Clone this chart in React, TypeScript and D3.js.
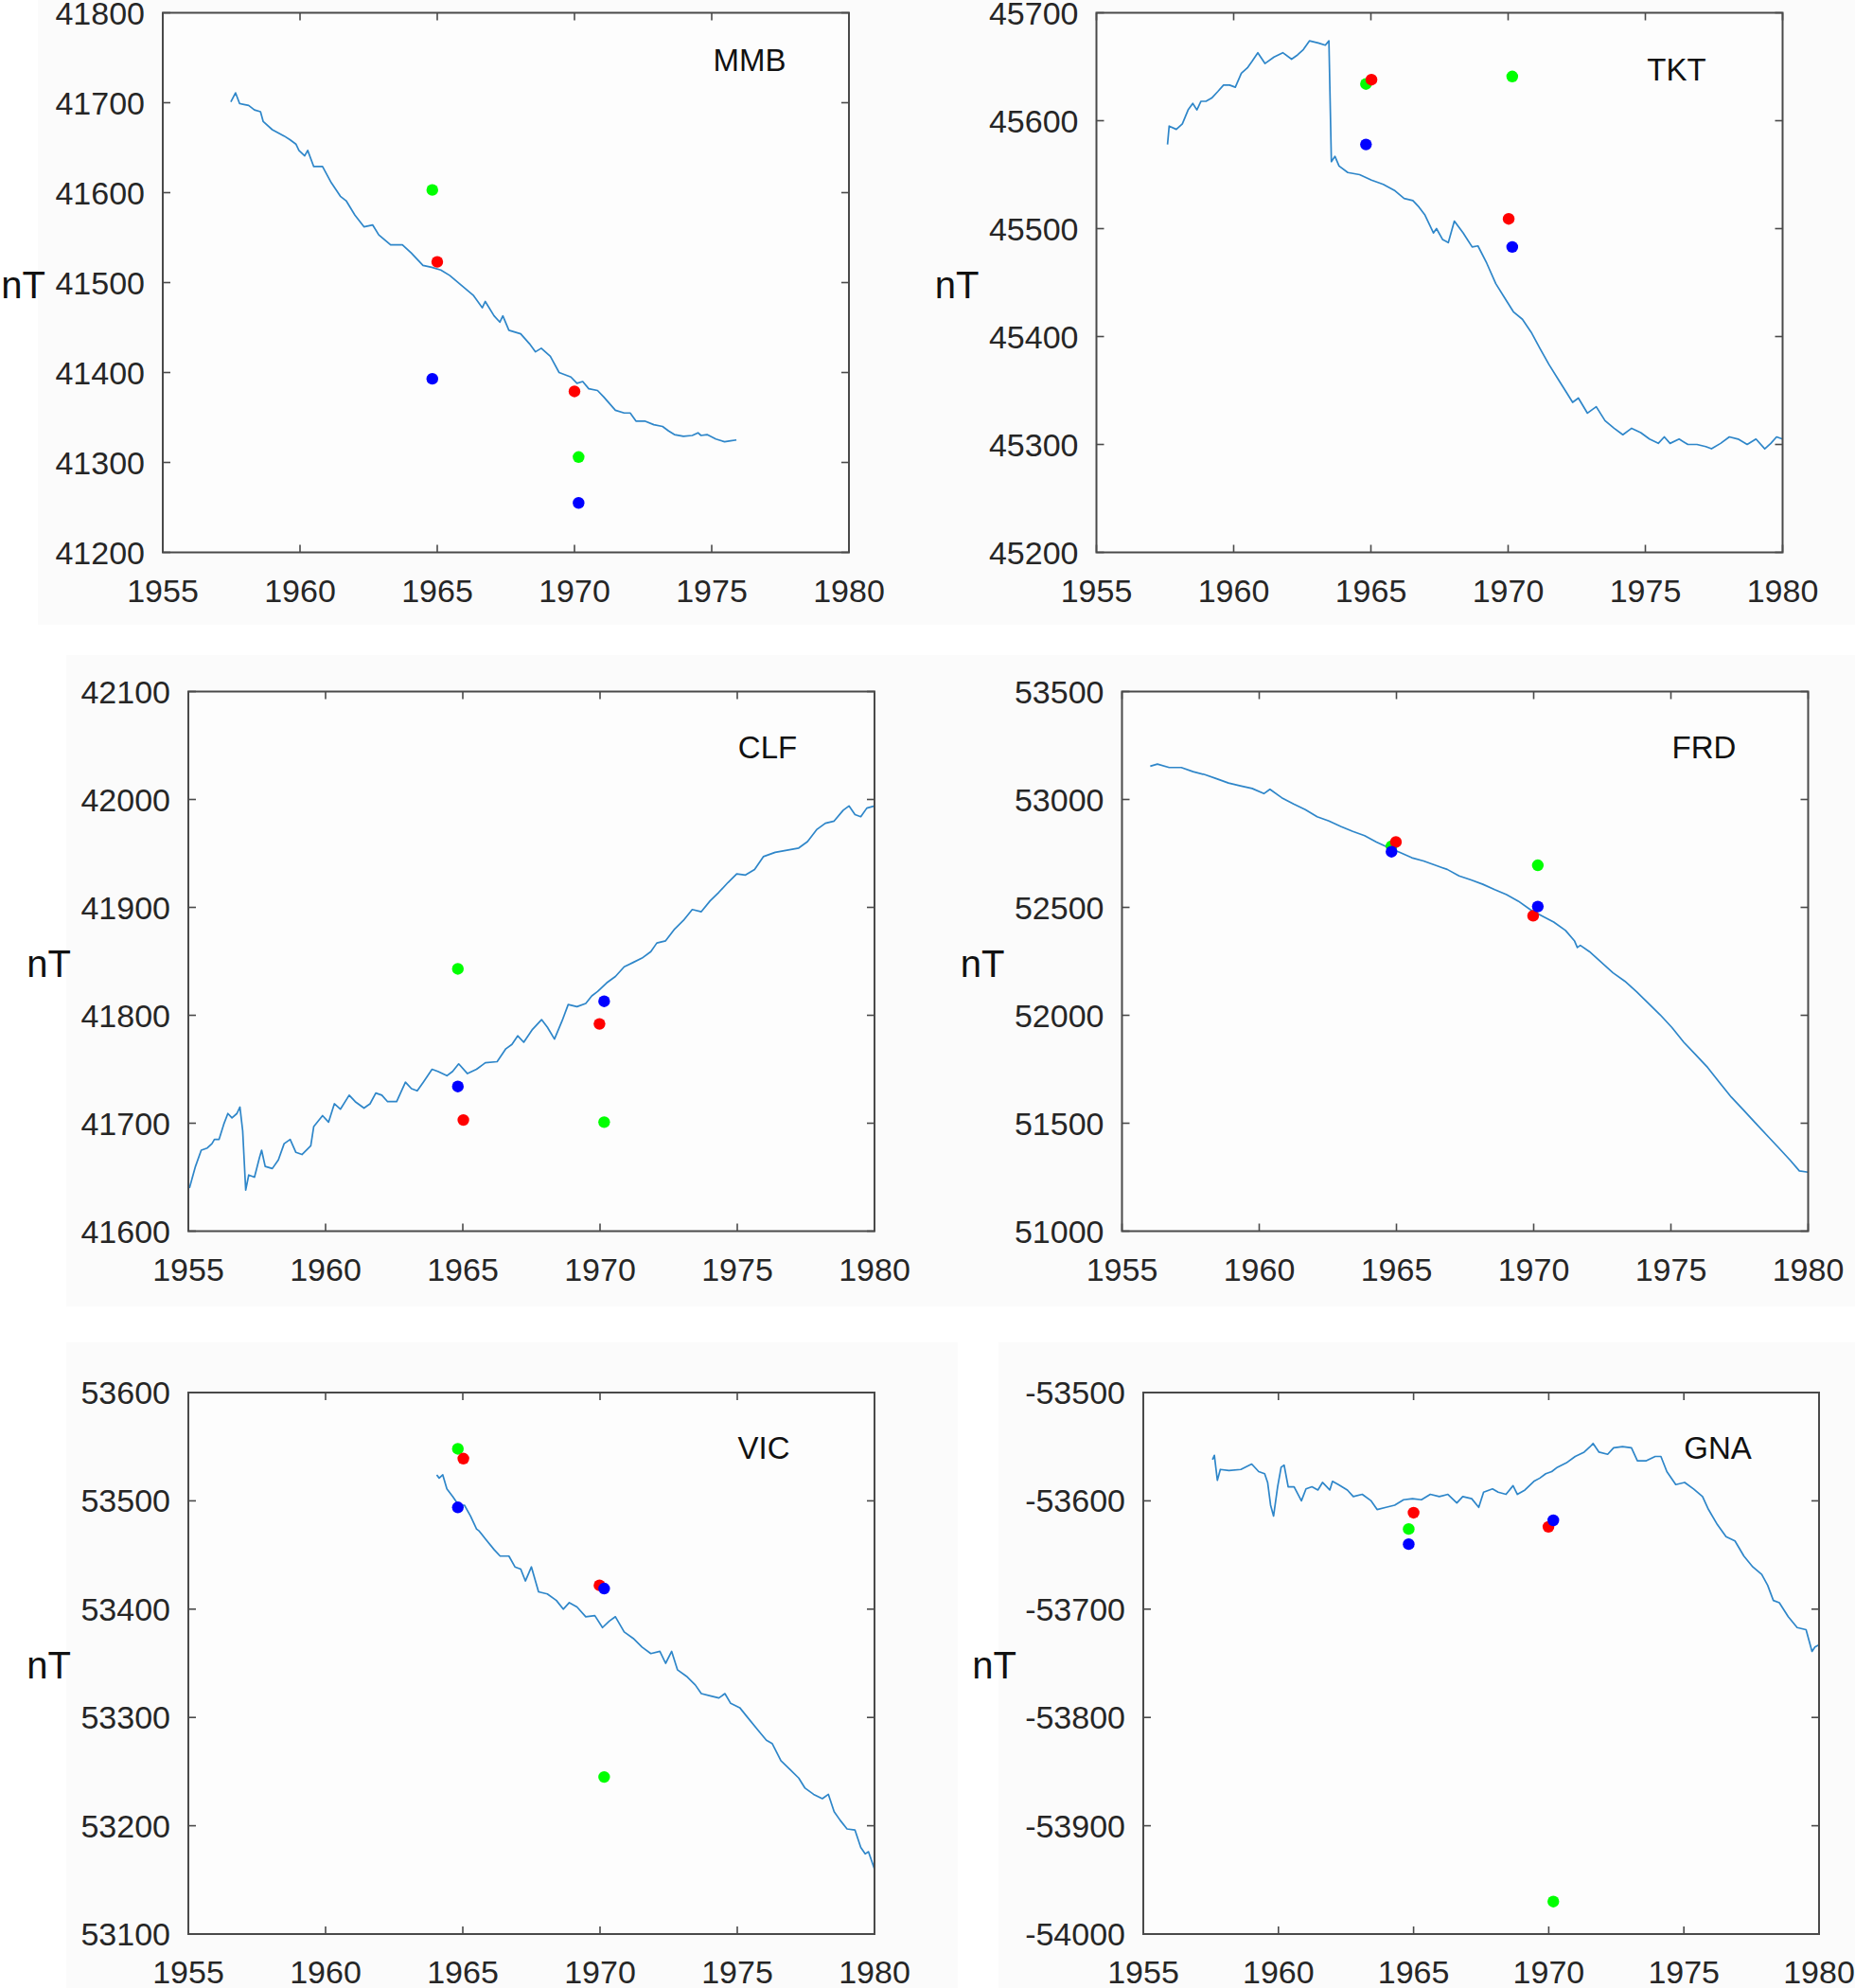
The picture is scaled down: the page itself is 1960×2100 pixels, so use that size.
import React from "react";
import * as d3 from "d3";

// ---------- DATA ----------
const stations = ["MMB", "TKT", "CLF", "FRD", "VIC", "GNA"];
const xTicks = [1955, 1960, 1965, 1970, 1975, 1980];

const yTicksMMB = [41200, 41300, 41400, 41500, 41600, 41700, 41800];
const yTicksTKT = [45200, 45300, 45400, 45500, 45600, 45700];
const yTicksCLF = [41600, 41700, 41800, 41900, 42000, 42100];
const yTicksFRD = [51000, 51500, 52000, 52500, 53000, 53500];
const yTicksVIC = [53100, 53200, 53300, 53400, 53500, 53600];
const yTicksGNA = [-54000, -53900, -53800, -53700, -53600, -53500];

// observatory series [year, nT]
const seriesMMB: [number, number][] = [
  [1957.48, 41701], [1957.65, 41711], [1957.8, 41699], [1958.13, 41697], [1958.34, 41692], [1958.56, 41690],
  [1958.66, 41679], [1958.99, 41670], [1959.42, 41663], [1959.63, 41659], [1959.85, 41654], [1959.96, 41647],
  [1960.17, 41641], [1960.28, 41647], [1960.5, 41629], [1960.82, 41629], [1961.14, 41611], [1961.47, 41596],
  [1961.68, 41591], [1962.0, 41575], [1962.33, 41562], [1962.65, 41564], [1962.87, 41553], [1963.3, 41542],
  [1963.73, 41542], [1964.05, 41533], [1964.48, 41519], [1964.8, 41517], [1965.13, 41514], [1965.45, 41508],
  [1965.88, 41497], [1966.31, 41486], [1966.64, 41472], [1966.75, 41479], [1967.07, 41463], [1967.28, 41456],
  [1967.39, 41463], [1967.61, 41447], [1968.04, 41443], [1968.36, 41432], [1968.58, 41423], [1968.79, 41427],
  [1969.12, 41418], [1969.44, 41400], [1969.87, 41395], [1970.09, 41388], [1970.3, 41390], [1970.52, 41382],
  [1970.84, 41380], [1971.06, 41373], [1971.49, 41358], [1971.81, 41355], [1972.03, 41355], [1972.24, 41346],
  [1972.56, 41346], [1972.89, 41342], [1973.21, 41340], [1973.43, 41335], [1973.64, 41331], [1973.97, 41329],
  [1974.29, 41330], [1974.5, 41333], [1974.61, 41330], [1974.83, 41331], [1975.15, 41326], [1975.47, 41323],
  [1975.69, 41324], [1975.9, 41325],
];

const seriesTKT: [number, number][] = [
  [1957.59, 45578], [1957.65, 45595], [1957.91, 45592], [1958.13, 45597], [1958.34, 45610], [1958.51, 45616],
  [1958.66, 45610], [1958.81, 45618], [1958.99, 45618], [1959.2, 45621], [1959.42, 45627], [1959.63, 45633],
  [1959.85, 45633], [1960.06, 45631], [1960.28, 45644], [1960.5, 45649], [1960.67, 45655], [1960.88, 45663],
  [1961.14, 45653], [1961.47, 45659], [1961.79, 45663], [1962.11, 45657], [1962.33, 45661], [1962.54, 45666],
  [1962.76, 45674], [1963.08, 45672], [1963.34, 45670], [1963.47, 45674], [1963.56, 45562], [1963.69, 45567],
  [1963.84, 45558], [1964.16, 45552], [1964.59, 45550], [1965.02, 45545], [1965.45, 45541], [1965.88, 45535],
  [1966.21, 45528], [1966.53, 45526], [1966.75, 45520], [1966.96, 45513], [1967.28, 45496], [1967.39, 45500],
  [1967.61, 45490], [1967.82, 45487], [1968.04, 45507], [1968.36, 45496], [1968.69, 45483], [1968.9, 45484],
  [1969.22, 45468], [1969.55, 45449], [1969.87, 45436], [1970.19, 45423], [1970.52, 45416], [1970.84, 45404],
  [1971.16, 45389], [1971.49, 45374], [1971.81, 45361], [1972.13, 45348], [1972.35, 45339], [1972.56, 45343],
  [1972.89, 45329], [1973.21, 45335], [1973.53, 45322], [1973.86, 45315], [1974.18, 45309], [1974.5, 45315],
  [1974.83, 45311], [1975.15, 45305], [1975.47, 45301], [1975.69, 45307], [1975.9, 45301], [1976.23, 45305],
  [1976.55, 45300], [1976.88, 45300], [1977.2, 45298], [1977.41, 45296], [1977.74, 45301], [1978.06, 45307],
  [1978.38, 45305], [1978.71, 45300], [1979.03, 45305], [1979.35, 45296], [1979.57, 45301], [1979.78, 45307],
  [1980.0, 45305],
];

const seriesCLF: [number, number][] = [
  [1955.04, 41640], [1955.26, 41660], [1955.47, 41675], [1955.69, 41677], [1955.86, 41681], [1955.95, 41685],
  [1956.12, 41685], [1956.29, 41699], [1956.44, 41709], [1956.59, 41705], [1956.77, 41709], [1956.88, 41715],
  [1956.98, 41693], [1957.09, 41638], [1957.2, 41652], [1957.41, 41650], [1957.59, 41668], [1957.67, 41675],
  [1957.8, 41660], [1958.06, 41658], [1958.28, 41666], [1958.49, 41681], [1958.71, 41685], [1958.92, 41673],
  [1959.14, 41671], [1959.46, 41679], [1959.57, 41697], [1959.89, 41707], [1960.11, 41701], [1960.32, 41718],
  [1960.54, 41713], [1960.86, 41726], [1961.08, 41720], [1961.4, 41714], [1961.62, 41718], [1961.83, 41728],
  [1962.05, 41726], [1962.26, 41720], [1962.59, 41720], [1962.91, 41738], [1963.13, 41732], [1963.34, 41730],
  [1963.56, 41738], [1963.88, 41750], [1964.09, 41748], [1964.42, 41744], [1964.63, 41748], [1964.85, 41755],
  [1965.17, 41746], [1965.5, 41750], [1965.82, 41756], [1966.25, 41757], [1966.57, 41769], [1966.79, 41773],
  [1967.0, 41781], [1967.22, 41775], [1967.54, 41787], [1967.87, 41796], [1968.08, 41789], [1968.34, 41778],
  [1968.62, 41795], [1968.84, 41810], [1969.16, 41808], [1969.48, 41811], [1969.7, 41818], [1969.91, 41822],
  [1970.24, 41830], [1970.56, 41836], [1970.88, 41845], [1971.21, 41849], [1971.53, 41853], [1971.85, 41859],
  [1972.07, 41867], [1972.39, 41869], [1972.72, 41880], [1973.04, 41888], [1973.36, 41898], [1973.69, 41896],
  [1974.01, 41906], [1974.33, 41914], [1974.66, 41923], [1974.98, 41931], [1975.3, 41930], [1975.63, 41935],
  [1975.95, 41947], [1976.38, 41951], [1976.81, 41953], [1977.24, 41955], [1977.56, 41961], [1977.89, 41972],
  [1978.21, 41978], [1978.53, 41980], [1978.86, 41990], [1979.07, 41994], [1979.29, 41986], [1979.5, 41984],
  [1979.72, 41992], [1980.0, 41994],
];

const seriesFRD: [number, number][] = [
  [1956.03, 53154], [1956.29, 53164], [1956.72, 53148], [1957.16, 53148], [1957.59, 53129], [1958.02, 53115],
  [1958.45, 53096], [1958.88, 53076], [1959.31, 53063], [1959.74, 53051], [1960.17, 53027], [1960.39, 53047],
  [1960.82, 53008], [1961.25, 52979], [1961.68, 52953], [1962.11, 52920], [1962.54, 52900], [1962.97, 52875],
  [1963.41, 52852], [1963.84, 52832], [1964.27, 52803], [1964.7, 52777], [1965.13, 52754], [1965.56, 52730],
  [1965.99, 52715], [1966.42, 52695], [1966.85, 52676], [1967.28, 52646], [1967.72, 52627], [1968.15, 52607],
  [1968.58, 52582], [1969.01, 52559], [1969.44, 52529], [1969.87, 52490], [1970.3, 52461], [1970.73, 52432],
  [1971.16, 52393], [1971.49, 52344], [1971.59, 52314], [1971.7, 52324], [1972.03, 52295], [1972.46, 52246],
  [1972.89, 52197], [1973.32, 52158], [1973.75, 52109], [1974.18, 52055], [1974.61, 52002], [1975.04, 51943],
  [1975.47, 51875], [1975.91, 51816], [1976.34, 51758], [1976.77, 51689], [1977.2, 51621], [1977.63, 51563],
  [1978.06, 51504], [1978.49, 51445], [1978.92, 51387], [1979.35, 51328], [1979.68, 51279], [1980.0, 51273],
];

const seriesVIC: [number, number][] = [
  [1964.05, 53524], [1964.14, 53521], [1964.27, 53524], [1964.42, 53511], [1964.63, 53504], [1964.85, 53496],
  [1965.06, 53496], [1965.28, 53486], [1965.5, 53474], [1965.6, 53472], [1965.82, 53465], [1966.14, 53455],
  [1966.36, 53449], [1966.68, 53449], [1966.9, 53439], [1967.11, 53437], [1967.28, 53426], [1967.5, 53439],
  [1967.76, 53416], [1968.08, 53414], [1968.41, 53408], [1968.66, 53400], [1968.88, 53406], [1969.16, 53402],
  [1969.48, 53393], [1969.81, 53394], [1970.09, 53383], [1970.34, 53389], [1970.56, 53393], [1970.88, 53379],
  [1971.21, 53373], [1971.53, 53365], [1971.85, 53359], [1972.18, 53361], [1972.39, 53350], [1972.61, 53361],
  [1972.82, 53344], [1973.15, 53338], [1973.47, 53330], [1973.69, 53322], [1974.01, 53320], [1974.33, 53318],
  [1974.55, 53322], [1974.76, 53313], [1975.09, 53309], [1975.41, 53299], [1975.73, 53289], [1976.06, 53279],
  [1976.27, 53276], [1976.59, 53260], [1976.92, 53252], [1977.24, 53244], [1977.46, 53235], [1977.78, 53229],
  [1978.1, 53225], [1978.32, 53229], [1978.53, 53213], [1978.75, 53205], [1979.0, 53197], [1979.29, 53196],
  [1979.5, 53180], [1979.66, 53174], [1979.78, 53176], [1980.0, 53160],
];

const seriesGNA: [number, number][] = [
  [1957.56, -53562], [1957.63, -53558], [1957.74, -53581], [1957.85, -53571], [1958.17, -53572], [1958.61, -53571],
  [1959.01, -53566], [1959.27, -53573], [1959.49, -53575], [1959.6, -53583], [1959.71, -53604], [1959.82, -53614],
  [1959.97, -53587], [1960.1, -53569], [1960.21, -53567], [1960.36, -53587], [1960.58, -53587], [1960.85, -53600],
  [1961.02, -53589], [1961.24, -53587], [1961.46, -53590], [1961.63, -53583], [1961.9, -53590], [1962.0, -53582],
  [1962.22, -53585], [1962.55, -53590], [1962.77, -53596], [1963.1, -53594], [1963.43, -53600], [1963.65, -53608],
  [1963.98, -53606], [1964.3, -53604], [1964.63, -53599], [1964.96, -53598], [1965.29, -53599], [1965.62, -53594],
  [1965.95, -53596], [1966.27, -53594], [1966.6, -53602], [1966.82, -53596], [1967.15, -53598], [1967.41, -53606],
  [1967.59, -53592], [1967.92, -53589], [1968.13, -53592], [1968.42, -53594], [1968.68, -53586], [1968.84, -53594],
  [1969.12, -53590], [1969.45, -53582], [1969.67, -53579], [1969.89, -53575], [1970.11, -53573], [1970.32, -53569],
  [1970.65, -53565], [1970.98, -53559], [1971.31, -53555], [1971.53, -53550], [1971.64, -53547], [1971.86, -53555],
  [1972.18, -53557], [1972.4, -53551], [1972.73, -53550], [1973.06, -53551], [1973.28, -53563], [1973.61, -53563],
  [1973.94, -53559], [1974.15, -53559], [1974.37, -53573], [1974.7, -53585], [1975.03, -53583], [1975.36, -53589],
  [1975.69, -53596], [1975.91, -53608], [1976.24, -53622], [1976.56, -53633], [1976.89, -53637], [1977.22, -53651],
  [1977.55, -53661], [1977.88, -53668], [1978.1, -53678], [1978.31, -53692], [1978.53, -53694], [1978.86, -53707],
  [1979.19, -53717], [1979.52, -53719], [1979.74, -53739], [1979.85, -53735], [1980.0, -53733],
];

// model points [year, nT] for red / green / blue models
const redMMB: [number, number][] = [[1965.0, 41523], [1970.0, 41379]];
const greenMMB: [number, number][] = [[1964.82, 41603], [1970.15, 41306]];
const blueMMB: [number, number][] = [[1964.82, 41393], [1970.15, 41255]];

const redTKT: [number, number][] = [[1965.02, 45638], [1970.02, 45509]];
const greenTKT: [number, number][] = [[1964.82, 45634], [1970.15, 45641]];
const blueTKT: [number, number][] = [[1964.82, 45578], [1970.15, 45483]];

const redCLF: [number, number][] = [[1965.02, 41703], [1969.98, 41792]];
const greenCLF: [number, number][] = [[1964.82, 41843], [1970.15, 41701]];
const blueCLF: [number, number][] = [[1964.82, 41734], [1970.15, 41813]];

const redFRD: [number, number][] = [[1964.98, 52803], [1969.98, 52461]];
const greenFRD: [number, number][] = [[1964.82, 52783], [1970.15, 52695]];
const blueFRD: [number, number][] = [[1964.82, 52758], [1970.15, 52504]];

const redVIC: [number, number][] = [[1965.02, 53539], [1969.98, 53422]];
const greenVIC: [number, number][] = [[1964.82, 53548], [1970.15, 53245]];
const blueVIC: [number, number][] = [[1964.82, 53494], [1970.15, 53419]];

const redGNA: [number, number][] = [[1965.0, -53611], [1969.99, -53624]];
const greenGNA: [number, number][] = [[1964.82, -53626], [1970.17, -53970]];
const blueGNA: [number, number][] = [[1964.82, -53640], [1970.17, -53618]];

// ---------- LAYOUT ----------
type Panel = {
  name: string;
  yTicks: number[];
  series: [number, number][];
  red: [number, number][];
  green: [number, number][];
  blue: [number, number][];
  left: number; top: number; w: number; h: number;
  bg: [number, number, number, number];
  titleDx: number; titleDy: number;
  labelGap: number;
};

const panels: Panel[] = [
  { name: stations[0], yTicks: yTicksMMB, series: seriesMMB, red: redMMB, green: greenMMB, blue: blueMMB,
    left: 172, top: 13.5, w: 725, h: 570, bg: [40, 0, 984, 660], titleDx: 620, titleDy: 49, labelGap: 124 },
  { name: stations[1], yTicks: yTicksTKT, series: seriesTKT, red: redTKT, green: greenTKT, blue: blueTKT,
    left: 1158.5, top: 13.5, w: 725, h: 570, bg: [984, 0, 1960, 660], titleDx: 613, titleDy: 59, labelGap: 124 },
  { name: stations[2], yTicks: yTicksCLF, series: seriesCLF, red: redCLF, green: greenCLF, blue: blueCLF,
    left: 199, top: 730.5, w: 725, h: 570, bg: [70, 692, 1012, 1380], titleDx: 612, titleDy: 58, labelGap: 124 },
  { name: stations[3], yTicks: yTicksFRD, series: seriesFRD, red: redFRD, green: greenFRD, blue: blueFRD,
    left: 1185.5, top: 730.5, w: 725, h: 570, bg: [1012, 692, 1960, 1380], titleDx: 615, titleDy: 58, labelGap: 124 },
  { name: stations[4], yTicks: yTicksVIC, series: seriesVIC, red: redVIC, green: greenVIC, blue: blueVIC,
    left: 199, top: 1471, w: 725, h: 572, bg: [70, 1418, 1012, 2100], titleDx: 608, titleDy: 58, labelGap: 124 },
  { name: stations[5], yTicks: yTicksGNA, series: seriesGNA, red: redGNA, green: greenGNA, blue: blueGNA,
    left: 1208, top: 1471, w: 714, h: 572, bg: [1055, 1418, 1960, 2100], titleDx: 607, titleDy: 58, labelGap: 134 },
];

const FONT = "'Liberation Sans', Arial, Helvetica, sans-serif";
const TEXT = "#262626";
const AXIS = "#4a4a4a";
const LINE = "#2e86c9";
const TICK = 8;

function PanelView({ p }: { p: Panel }) {
  const x = d3.scaleLinear().domain([1955, 1980]).range([p.left, p.left + p.w]);
  const yDom = d3.extent(p.yTicks) as [number, number];
  const y = d3.scaleLinear().domain(yDom).range([p.top + p.h, p.top]);
  const line = d3.line<[number, number]>().x((d) => x(d[0])).y((d) => y(d[1]));
  const bottom = p.top + p.h;
  const right = p.left + p.w;
  const dots = [
    { data: p.green, color: "#00ff00" },
    { data: p.red, color: "#ff0000" },
    { data: p.blue, color: "#0000ff" },
  ];
  return (
    <g>
      <rect x={p.bg[0]} y={p.bg[1]} width={p.bg[2] - p.bg[0]} height={p.bg[3] - p.bg[1]} fill="#fbfbfb" />
      <rect x={p.left} y={p.top} width={p.w} height={p.h} fill="#fdfdfd" />
      {/* ticks */}
      {xTicks.map((t) => (
        <g key={"x" + t}>
          <line x1={x(t)} x2={x(t)} y1={bottom} y2={bottom - TICK} stroke={AXIS} strokeWidth={1.6} />
          <line x1={x(t)} x2={x(t)} y1={p.top} y2={p.top + TICK} stroke={AXIS} strokeWidth={1.6} />
          <text x={x(t)} y={bottom + 52} textAnchor="middle" fontSize={34} fontFamily={FONT} fill={TEXT}>
            {t}
          </text>
        </g>
      ))}
      {p.yTicks.map((t) => (
        <g key={"y" + t}>
          <line x1={p.left} x2={p.left + TICK} y1={y(t)} y2={y(t)} stroke={AXIS} strokeWidth={1.6} />
          <line x1={right} x2={right - TICK} y1={y(t)} y2={y(t)} stroke={AXIS} strokeWidth={1.6} />
          <text x={p.left - 19} y={y(t) + 12} textAnchor="end" fontSize={34} fontFamily={FONT} fill={TEXT}>
            {t}
          </text>
        </g>
      ))}
      <path d={line(p.series) || ""} fill="none" stroke={LINE} strokeWidth={1.7} strokeLinejoin="round" />
      {dots.map((s) =>
        s.data.map((d, i) => (
          <circle key={s.color + i} cx={x(d[0])} cy={y(d[1])} r={6.2} fill={s.color} />
        ))
      )}
      <rect x={p.left} y={p.top} width={p.w} height={p.h} fill="none" stroke={AXIS} strokeWidth={2} />
      <text x={p.left + p.titleDx} y={p.top + p.titleDy + 12} textAnchor="middle" fontSize={33} fontFamily={FONT} fill="#111">
        {p.name}
      </text>
      <text x={p.left - p.labelGap} y={p.top + p.h / 2 + 2 + 14} textAnchor="end" fontSize={40} fontFamily={FONT} fill="#111">
        nT
      </text>
    </g>
  );
}

export default function App() {
  return (
    <div style={{ position: "absolute", left: 0, top: 0, background: "#fff" }}>
      <svg width={1960} height={2100} viewBox="0 0 1960 2100" style={{ display: "block" }}>
        <rect x={0} y={0} width={1960} height={2100} fill="#ffffff" />
        {panels.map((p) => (
          <PanelView key={p.name} p={p} />
        ))}
      </svg>
    </div>
  );
}
